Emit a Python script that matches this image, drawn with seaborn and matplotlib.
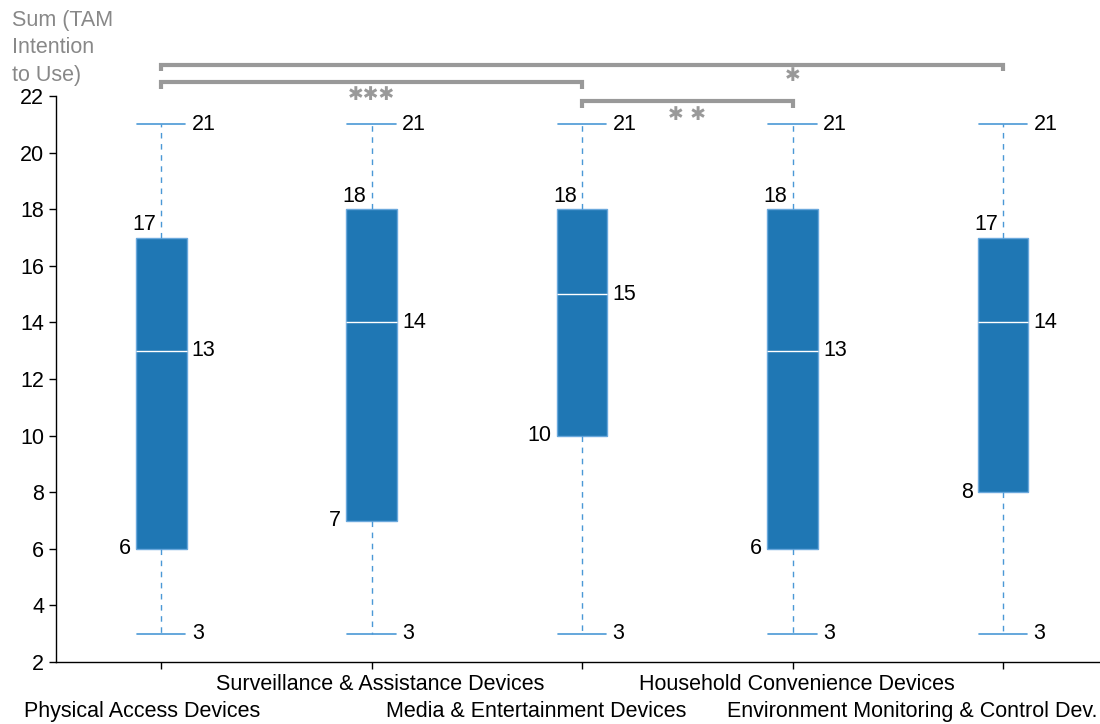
import matplotlib
matplotlib.use("Agg")
import matplotlib.pyplot as plt
import matplotlib.transforms as mtransforms
import numpy as np
import pandas as pd
import seaborn as sns

# Five-number summaries per device category
categories = [
    "Physical Access Devices",
    "Surveillance & Assistance Devices",
    "Media & Entertainment Devices",
    "Household Convenience Devices",
    "Environment Monitoring & Control Dev.",
]
mins = [3, 3, 3, 3, 3]
q1s = [6, 7, 10, 6, 8]
medians = [13, 14, 15, 13, 14]
q3s = [17, 18, 18, 18, 17]
maxs = [21, 21, 21, 21, 21]

# Significance brackets: (left category, right category, stars)
brackets = [(0, 4, "✱"), (0, 2, "✱✱✱"), (2, 3, "✱ ✱")]
bracket_levels = [23.10, 22.48, 21.81]
star_x = [3, 1, 2.5]
star_y = [22.71, 22.07, 21.36]

yticks = [2, 4, 6, 8, 10, 12, 14, 16, 18, 20, 22]
ylabel = "Sum (TAM\nIntention\nto Use)"

# Five points per category reproduce the quartiles exactly with linear interpolation
rows = []
for c, a, b, m, d, e in zip(categories, mins, q1s, medians, q3s, maxs):
    for v in (a, b, m, d, e):
        rows.append({"category": c, "value": v})
df = pd.DataFrame(rows)

sns.set_theme(style="ticks")
plt.rcParams["font.family"] = ["Liberation Sans", "DejaVu Sans"]
plt.rcParams["text.color"] = "black"
plt.rcParams["xtick.color"] = "black"
plt.rcParams["ytick.color"] = "black"

fig = plt.figure(figsize=(11, 7.24), dpi=100)
ax = fig.add_axes([56 / 1100, 1 - 662 / 724, 1 - 56 / 1100, (662 - 96) / 724])

blue = "#1f77b4"
light = "#4a98d6"
box_w = 0.24
sns.boxplot(
    data=df, x="category", y="value", order=categories, ax=ax,
    whis=(0, 100), width=box_w, color=blue, saturation=1, linewidth=1,
    linecolor=light,
    boxprops=dict(facecolor=blue, edgecolor="#6aa8dc"),
    whiskerprops=dict(linestyle=(0, (4, 4)), color=light, linewidth=1),
    capprops=dict(color=light, linewidth=1.2),
    medianprops=dict(color="white", linewidth=1),
)

# Caps as wide as the box
for line in ax.lines:
    x = line.get_xdata()
    y = line.get_ydata()
    if len(x) == 2 and y[0] == y[1] and (y[0] in mins or y[0] in maxs):
        cx = (x[0] + x[1]) / 2
        line.set_xdata([cx - box_w / 2 * 0.96, cx + box_w / 2 * 0.96])

ax.set_xlim(-0.5, 4.46)
ax.set_ylim(2, 22)
ax.set_yticks(yticks)
fs = 15.5
ax.tick_params(axis="both", labelsize=fs, length=5, width=1, color="black", labelcolor="black")
ax.set_xticks(range(len(categories)))
ax.set_xticklabels([])
ax.set_xlabel("")
ax.set_ylabel("")
for side in ("top", "right"):
    ax.spines[side].set_visible(False)
for side in ("left", "bottom"):
    ax.spines[side].set_color("black")
    ax.spines[side].set_linewidth(1)

# Value annotations around each box
pad = 0.025
for i in range(len(categories)):
    ax.text(i + box_w / 2 + pad, medians[i], str(medians[i]), ha="left", va="center", fontsize=fs)
    ax.text(i + box_w / 2 + pad, maxs[i], str(maxs[i]), ha="left", va="center", fontsize=fs)
    ax.text(i + box_w / 2 + pad, mins[i], str(mins[i]), ha="left", va="center", fontsize=fs)
    ax.text(i - pad, q3s[i] + 0.08, str(q3s[i]), ha="right", va="bottom", fontsize=fs)
    ax.text(i - box_w / 2 - pad, q1s[i], str(q1s[i]), ha="right", va="center", fontsize=fs)

# Category labels staggered on two rows
trans = mtransforms.blended_transform_factory(ax.transData, ax.transAxes)
label_shift = [-0.09, 0.04, -0.22, 0.02, -0.43]
for i, (name, dx) in enumerate(zip(categories, label_shift)):
    y = -0.039 if i % 2 == 1 else -0.088
    ax.text(i + dx, y, name, transform=trans, ha="center", va="center", fontsize=fs)

# Significance brackets
gray = "#999999"
tick = 0.22
for (a, b, s), lvl in zip(brackets, bracket_levels):
    ax.plot([a, a, b, b], [lvl - tick, lvl, lvl, lvl - tick], color=gray, lw=3,
            clip_on=False, solid_joinstyle="miter", solid_capstyle="butt")
for (a, b, s), sx, sy in zip(brackets, star_x, star_y):
    ax.text(sx, sy, s, ha="center", va="center", fontsize=13.5, color=gray,
            family=["DejaVu Sans"], fontweight="bold", clip_on=False)

fig.text(12 / 1100, 1 - 10 / 724, ylabel, ha="left", va="top", fontsize=15.5,
         color="#888888", linespacing=1.4)

fig.savefig("out.png", dpi=100)
